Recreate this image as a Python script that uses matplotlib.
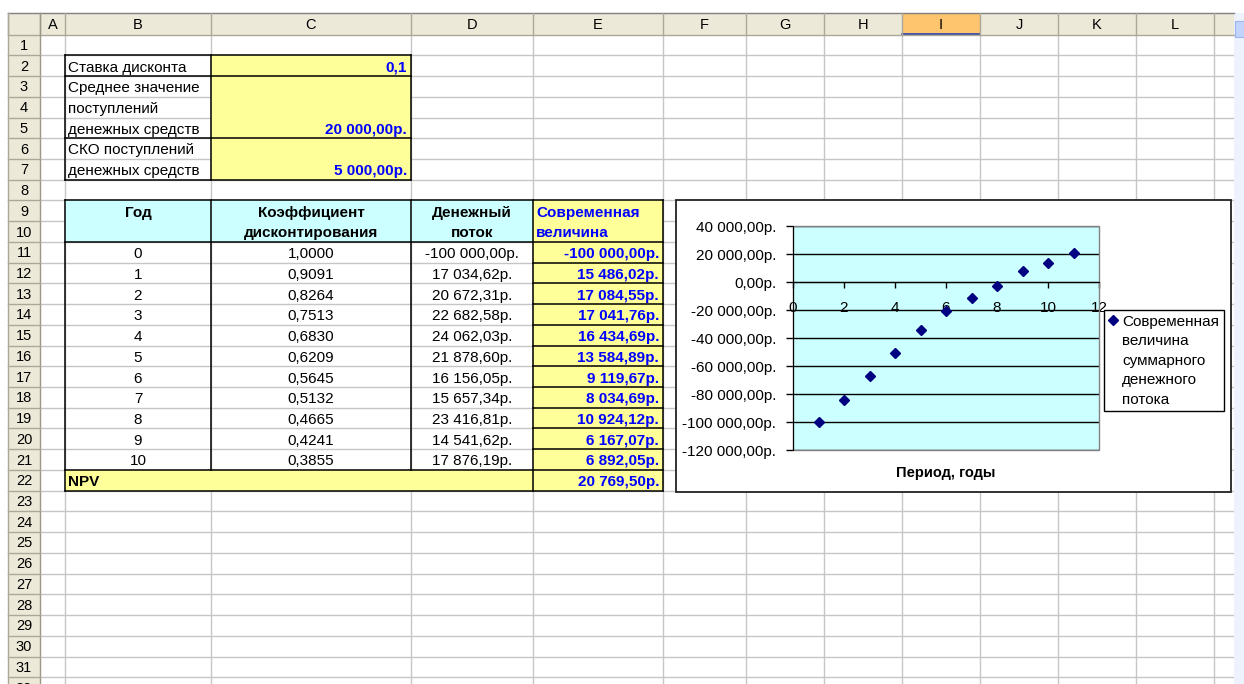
import matplotlib
matplotlib.use('Agg')
import matplotlib.pyplot as plt
from matplotlib.patches import Rectangle
from matplotlib.lines import Line2D

plt.rcParams['font.family'] = ['Liberation Sans', 'DejaVu Sans']

# --- data from the sheet ---
discount_rate = 0.1
mean_income = 20000.00
std_income = 5000.00

years = [0, 1, 2, 3, 4, 5, 6, 7, 8, 9, 10]
discount_coef = [1.0000, 0.9091, 0.8264, 0.7513, 0.6830, 0.6209,
                 0.5645, 0.5132, 0.4665, 0.4241, 0.3855]
cash_flow = [-100000.00, 17034.62, 20672.31, 22682.58, 24062.03, 21878.60,
             16156.05, 15657.34, 23416.81, 14541.62, 17876.19]
present_value = [-100000.00, 15486.02, 17084.55, 17041.76, 16434.69, 13584.89,
                 9119.67, 8034.69, 10924.12, 6167.07, 6892.05]
npv = 20769.50

# chart series (cumulative present value by period)
period = [1, 2, 3, 4, 5, 6, 7, 8, 9, 10, 11]
cumulative_pv = [-100000.00, -84513.98, -67429.43, -50387.67, -33952.98,
                 -20368.09, -11248.42, -3213.73, 7710.39, 13877.46, 20769.51]
y_ticks = [40000, 20000, 0, -20000, -40000, -60000, -80000, -100000, -120000]
x_ticks = [0, 2, 4, 6, 8, 10, 12]
legend_lines = ['Современная', 'величина', 'суммарного', 'денежного', 'потока']

col_names = ['A', 'B', 'C', 'D', 'E', 'F', 'G', 'H', 'I', 'J', 'K', 'L', '']
n_rows = 32


def rub(v):
    s = f"{v:,.2f}".replace(',', ' ').replace('.', ',')
    return s + 'р.'


# --- sheet geometry (pixels) ---
W, H = 1244, 684
col_edges = [40, 65, 211, 411, 533, 663, 746, 824, 902, 980, 1058, 1136, 1214, 1234]
HDR_TOP = 13
HDR_BOT = 34.6
ROW_H = 20.73
FS = 11

hdr_bg = '#ECE9D8'
hdr_line = '#ACA899'
grid_c = '#C6C6C6'
yellow = '#FFFF99'
cyan = '#CCFFFF'
blue = '#0000FF'


def row_top(r):
    return HDR_BOT + (r - 1) * ROW_H


def col_x(c):
    i = col_names.index(c)
    return col_edges[i], col_edges[i + 1]


fig = plt.figure(figsize=(W / 100, H / 100), dpi=100)
ax = fig.add_axes([0, 0, 1, 1])
ax.set_xlim(0, W)
ax.set_ylim(H, 0)
ax.axis('off')

# gridlines
for x in col_edges[1:-1]:
    ax.plot([x, x], [HDR_BOT, H], color=grid_c, lw=1, zorder=1)
for r in range(1, n_rows + 1):
    y = row_top(r + 1)
    ax.plot([40, 1234], [y, y], color=grid_c, lw=1, zorder=1)

# column headers
ax.add_patch(Rectangle((8, HDR_TOP), 1234 - 8, HDR_BOT - HDR_TOP, fc=hdr_bg, ec='none', zorder=2))
x0, x1 = col_x('I')
ax.add_patch(Rectangle((x0, HDR_TOP), x1 - x0, HDR_BOT - HDR_TOP, fc='#FFC46E', ec='none', zorder=2))
ax.plot([x0, x1], [HDR_BOT - 1, HDR_BOT - 1], color='#2040B0', lw=1.2, zorder=3)
ax.plot([8, 1234], [HDR_TOP, HDR_TOP], color='#808080', lw=1, zorder=3)
ax.plot([8, 1234], [HDR_BOT, HDR_BOT], color=hdr_line, lw=1, zorder=3)
for x in [8] + col_edges[:-1]:
    ax.plot([x, x], [HDR_TOP, HDR_BOT], color=hdr_line, lw=1, zorder=3)
for i, name in enumerate(col_names):
    ax.text((col_edges[i] + col_edges[i + 1]) / 2, (HDR_TOP + HDR_BOT) / 2 + 1, name,
            ha='center', va='center', fontsize=10.5, zorder=4)

# row headers (row 32 is cut by the window edge, as on screen)
ax.add_patch(Rectangle((8, HDR_BOT), 32, H - HDR_BOT, fc=hdr_bg, ec='none', zorder=2))
ax.plot([8, 8], [HDR_TOP, H], color=hdr_line, lw=1, zorder=3)
ax.plot([40, 40], [HDR_TOP, H], color='#9A9787', lw=1, zorder=3)
for r in range(1, n_rows + 1):
    y = row_top(r + 1)
    ax.plot([8, 40], [y, y], color=hdr_line, lw=1, zorder=3)
    ax.text(24, row_top(r) + ROW_H / 2 + 1, str(r), ha='center', va='center',
            fontsize=10.5, zorder=4, clip_on=True)

# scrollbar
ax.add_patch(Rectangle((1234, HDR_TOP), 10, H - HDR_TOP, fc='#EEF2FC', ec='none', zorder=2))
ax.add_patch(Rectangle((1235, HDR_TOP + 8), 9, 16, fc='#C3D4FC', ec='#9DB4EE', lw=0.8, zorder=3))


def fill(c0, c1, r0, r1, color):
    xa = col_x(c0)[0]
    xb = col_x(c1)[1]
    ax.add_patch(Rectangle((xa, row_top(r0)), xb - xa, row_top(r1 + 1) - row_top(r0),
                           fc=color, ec='none', zorder=2))


def hline(xa, xb, y, lw=1.1):
    ax.plot([xa, xb], [y, y], color='black', lw=lw, zorder=3, solid_capstyle='projecting')


def vline(x, ya, yb, lw=1.1):
    ax.plot([x, x], [ya, yb], color='black', lw=lw, zorder=3, solid_capstyle='projecting')


def cell(c, r, s, ha='left', bold=False, color='black'):
    xa, xb = col_x(c)
    if ha == 'left':
        x = xa + 3
    elif ha == 'right':
        x = xb - 4
    else:
        x = (xa + xb) / 2
    ax.text(x, row_top(r + 1) - 4.5, s, ha=ha, va='baseline', fontsize=FS,
            fontweight='bold' if bold else 'normal', color=color, zorder=4)


# input block B2:C7
fill('C', 'C', 2, 7, yellow)
hline(65, 411, row_top(2))
hline(65, 411, row_top(3))
hline(65, 411, row_top(6))
hline(65, 411, row_top(8))
vline(65, row_top(2), row_top(8))
vline(211, row_top(2), row_top(8))
vline(411, row_top(2), row_top(8))

cell('B', 2, 'Ставка дисконта')
cell('C', 2, f"{discount_rate}".replace('.', ','), ha='right', bold=True, color=blue)
cell('B', 3, 'Среднее значение')
cell('B', 4, 'поступлений')
cell('B', 5, 'денежных средств')
cell('C', 5, rub(mean_income), ha='right', bold=True, color=blue)
cell('B', 6, 'СКО поступлений')
cell('B', 7, 'денежных средств')
cell('C', 7, rub(std_income), ha='right', bold=True, color=blue)

# main table B9:E22
fill('B', 'D', 9, 10, cyan)
fill('E', 'E', 9, 22, yellow)
fill('B', 'D', 22, 22, yellow)
hline(65, 663, row_top(9))
hline(65, 663, row_top(11))
hline(65, 663, row_top(22))
hline(65, 663, row_top(23))
for r in range(12, 22):
    hline(533, 663, row_top(r))
vline(65, row_top(9), row_top(23))
vline(211, row_top(9), row_top(22))
vline(411, row_top(9), row_top(22))
vline(533, row_top(9), row_top(23))
vline(663, row_top(9), row_top(23))

cell('B', 9, 'Год', ha='center', bold=True)
cell('C', 9, 'Коэффициент', ha='center', bold=True)
cell('C', 10, 'дисконтирования', ha='center', bold=True)
cell('D', 9, 'Денежный', ha='center', bold=True)
cell('D', 10, 'поток', ha='center', bold=True)
cell('E', 9, 'Современная', bold=True, color=blue)
cell('E', 10, 'величина', bold=True, color=blue)

for i, yr in enumerate(years):
    r = 11 + i
    cell('B', r, str(yr), ha='center')
    cell('C', r, f"{discount_coef[i]:.4f}".replace('.', ','), ha='center')
    cell('D', r, rub(cash_flow[i]), ha='center')
    cell('E', r, rub(present_value[i]), ha='right', bold=True, color=blue)

cell('B', 22, 'NPV', bold=True)
cell('E', 22, rub(npv), ha='right', bold=True, color=blue)

# chart frame
ax.add_patch(Rectangle((676, 200), 1231 - 676, 492 - 200, fc='white', ec='#222222', lw=1.3, zorder=10))
ax.text(946, 473, 'Период, годы', ha='center', va='center', fontsize=10.5,
        fontweight='bold', zorder=11)

# chart plot area
cax = fig.add_axes([793 / W, 1 - 450 / H, 306 / W, 224 / H])
cax.set_facecolor(cyan)
pts, = cax.plot(period, cumulative_pv, ls='none', marker='D', ms=5.5, color='#000080',
                zorder=5, clip_on=False)
cax.set_xlim(0, 12)
cax.set_ylim(-120000, 40000)
cax.set_yticks(y_ticks)
cax.set_yticklabels([rub(v) for v in y_ticks])
cax.set_xticks(x_ticks)
cax.yaxis.grid(True, color='black', lw=1)
cax.set_axisbelow(True)
cax.spines['top'].set_visible(False)
cax.spines['right'].set_visible(False)
cax.spines['bottom'].set_position(('data', 0))
cax.spines['left'].set_color('black')
cax.spines['bottom'].set_color('black')
cax.add_patch(Rectangle((0, 0), 1, 1, transform=cax.transAxes, fill=False,
                        ec='#808080', lw=1, zorder=1, clip_on=False))
cax.tick_params(axis='y', direction='out', length=5, width=1, pad=7, labelsize=11)
cax.tick_params(axis='x', direction='out', length=4.5, width=1, pad=9, labelsize=11)

# legend: marker sits on the first line of the wrapped series name
blank = Line2D([], [], ls='none')
handles = [pts] + [blank] * (len(legend_lines) - 1)
leg = cax.legend(handles, legend_lines, loc='upper left',
                 bbox_to_anchor=(1104 / W, 1 - 310 / H),
                 bbox_transform=fig.transFigure, frameon=True, fancybox=False,
                 edgecolor='black', framealpha=1, borderaxespad=0, borderpad=0.3,
                 labelspacing=0.36, handlelength=0.6, handletextpad=0.3, fontsize=11)
leg.get_frame().set_linewidth(1)

fig.savefig('out.png', dpi=100)
